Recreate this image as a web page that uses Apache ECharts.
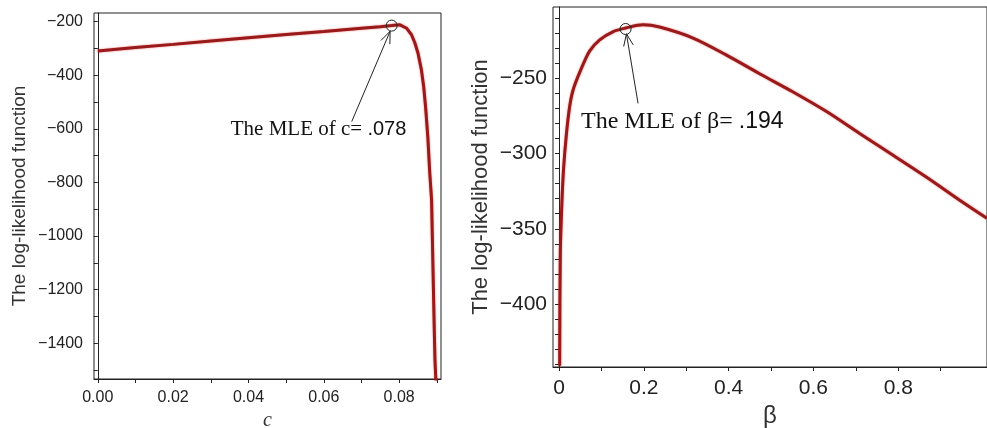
<!DOCTYPE html>
<html><head><meta charset="utf-8">
<script src="https://cdn.jsdelivr.net/npm/echarts@6/dist/echarts.min.js"></script>
<style>html,body{margin:0;padding:0;background:#fff}#c{width:987px;height:428px}</style>
</head><body><div id="c"></div>
<script>
// Left panel: log-likelihood vs c
const cX = [0, 0.01, 0.02, 0.03, 0.04, 0.05, 0.06, 0.07, 0.075, 0.078, 0.0802, 0.082, 0.0833, 0.0842, 0.085, 0.0859, 0.0865, 0.087, 0.0876, 0.0881, 0.0886, 0.089, 0.0893, 0.0895, 0.0897, 0.0899];
const cY = [-310, -297, -285, -272, -260, -248, -237, -225, -219, -215, -212, -225, -250, -281, -318, -380, -442, -517, -629, -760, -865, -1138, -1338, -1462, -1525, -1560];
const cXTickLabels = [0, 0.02, 0.04, 0.06, 0.08];
const cXTicks = [0, 0.01, 0.02, 0.03, 0.04, 0.05, 0.06, 0.07, 0.08, 0.09];
const cYTickLabels = [-200, -400, -600, -800, -1000, -1200, -1400];
const cYTicks = [-200, -300, -400, -500, -600, -700, -800, -900, -1000, -1100, -1200, -1300, -1400, -1500];
const cMLE = [0.078, -215];
const cArrow = [0.0674, -573, 0.0776, -236];

// Right panel: log-likelihood vs beta
const bX = [0.0015, 0.003, 0.007, 0.011, 0.0175, 0.025, 0.033, 0.049, 0.072, 0.096, 0.128, 0.157, 0.198, 0.237, 0.316, 0.394, 0.473, 0.551, 0.630, 0.709, 0.787, 0.866, 0.945, 1.009];
const bY = [-441, -367, -331, -309, -287, -269, -258, -246, -232, -224.5, -219, -216.7, -214.5, -216, -223.3, -234.5, -247, -259, -272, -286.7, -301, -315.6, -331, -343];
const bXTickLabels = [0, 0.2, 0.4, 0.6, 0.8];
const bXTicks = [0, 0.1, 0.2, 0.3, 0.4, 0.5, 0.6, 0.7, 0.8, 0.9];
const bYTickLabels = [-250, -300, -350, -400];
const bYTicks = [-210, -220, -230, -240, -250, -260, -270, -280, -290, -300, -310, -320, -330, -340, -350, -360, -370, -380, -390, -400, -410, -420, -430, -440];
const bMLE = [0.157, -217.3];
const bArrow = [0.1864, -266.7, 0.159, -220.5];

const yTitle = 'The log-likelihood function';

const lineColor = '#981a1a';
const ink = '#222';
const minusFmt = v => (v < 0 ? '\u2212' + Math.abs(v) : String(v));

function xAxisCfg(grid, min, max, labels, ticks, fmt, name, nameStyle, nameGap, fs, margin) {
  return {
    type: 'value', gridIndex: grid, min, max, name, nameLocation: 'middle', nameGap,
    nameTextStyle: nameStyle,
    axisLine: { show: true, lineStyle: { color: ink, width: 1 } },
    axisTick: { show: true, length: 4, inside: false, customValues: ticks, lineStyle: { color: ink } },
    axisLabel: { customValues: labels, formatter: fmt, fontFamily: 'Liberation Sans', fontSize: fs, color: ink, margin },
    splitLine: { show: false }
  };
}
function yAxisCfg(grid, min, max, labels, ticks, name, nameSize, nameGap, fs, margin) {
  return {
    type: 'value', gridIndex: grid, min, max, name, nameLocation: 'middle', nameGap, nameRotate: 90,
    nameTextStyle: { fontFamily: 'Liberation Sans', fontSize: nameSize, color: '#333' },
    axisLine: { show: true, lineStyle: { color: ink, width: 1 } },
    axisTick: { show: true, length: 4, inside: false, customValues: ticks, lineStyle: { color: ink } },
    axisLabel: { customValues: labels, formatter: minusFmt, fontFamily: 'Liberation Sans', fontSize: fs, color: ink, margin },
    splitLine: { show: false }
  };
}

// Arrow drawn through the axes' scales: line from start to tip, with an open chevron head at the tip
function arrowSeries(xi, arr) {
  return {
    type: 'custom', xAxisIndex: xi, yAxisIndex: xi, silent: true, clip: false, z: 5,
    data: [arr],
    renderItem: function (params, api) {
      const p1 = api.coord([api.value(0), api.value(1)]);
      const p2 = api.coord([api.value(2), api.value(3)]);
      const ang = Math.atan2(p2[1] - p1[1], p2[0] - p1[0]);
      const L = 13, spread = 0.38;
      const a1 = [p2[0] - L * Math.cos(ang - spread), p2[1] - L * Math.sin(ang - spread)];
      const a2 = [p2[0] - L * Math.cos(ang + spread), p2[1] - L * Math.sin(ang + spread)];
      return {
        type: 'group',
        children: [
          { type: 'line', shape: { x1: p1[0], y1: p1[1], x2: p2[0], y2: p2[1] }, style: { stroke: ink, lineWidth: 1 } },
          { type: 'polyline', shape: { points: [a1, p2, a2] }, style: { stroke: ink, lineWidth: 1, fill: null } }
        ]
      };
    }
  };
}

const option = {
  animation: false,
  backgroundColor: '#fff',
  grid: [
    { left: 94, top: 13, width: 347, height: 366, show: true, borderColor: ink, borderWidth: 1, backgroundColor: '#fff', containLabel: false, outerBoundsMode: 'none' },
    { left: 553, top: 7, right: 0, height: 360, show: true, borderColor: ink, borderWidth: 1, backgroundColor: '#fff', containLabel: false, outerBoundsMode: 'none' }
  ],
  xAxis: [
    xAxisCfg(0, -0.001, 0.0911, cXTickLabels, cXTicks, v => v.toFixed(2), 'c',
      { fontFamily: 'Liberation Serif', fontStyle: 'italic', fontSize: 20, color: '#333' }, 28, 16, 11),
    xAxisCfg(1, -0.0142, 1.0093, bXTickLabels, bXTicks, v => String(v), '\u03b2',
      { fontFamily: 'Liberation Sans', fontSize: 24, color: '#333' }, 34, 21, 11)
  ],
  yAxis: [
    yAxisCfg(0, -1533, -168, cYTickLabels, cYTicks, yTitle, 19, 65, 16, 11),
    yAxisCfg(1, -441.8, -202.7, bYTickLabels, bYTicks, yTitle, 22, 61, 21, 6)
  ],
  series: [
    {
      type: 'line', xAxisIndex: 0, yAxisIndex: 0, showSymbol: false, clip: true,
      data: cX.map((x, i) => [x, cY[i]]),
      lineStyle: { color: lineColor, width: 3, shadowColor: 'rgba(230,0,0,0.55)', shadowBlur: 2 },
      markPoint: {
        silent: true,
        data: [
          { coord: cMLE, symbol: 'circle', symbolSize: 11, itemStyle: { color: 'rgba(0,0,0,0)', borderColor: ink, borderWidth: 1 }, label: { show: false } },
          { coord: [0.0586, -604], symbol: 'circle', symbolSize: 0,
            label: { show: true, position: 'inside', formatter: '{a|The MLE of c= }{b|.078}',
              rich: { a: { fontFamily: 'Liberation Serif', fontSize: 21, color: '#111' }, b: { fontFamily: 'Liberation Sans', fontSize: 20, color: '#111' } } } }
        ]
      }
    },
    arrowSeries(0, cArrow),
    {
      type: 'line', xAxisIndex: 1, yAxisIndex: 1, showSymbol: false, clip: true, smooth: 0.3,
      data: bX.map((x, i) => [x, bY[i]]),
      lineStyle: { color: lineColor, width: 3, shadowColor: 'rgba(230,0,0,0.55)', shadowBlur: 2 },
      markPoint: {
        silent: true,
        data: [
          { coord: bMLE, symbol: 'circle', symbolSize: 11, itemStyle: { color: 'rgba(0,0,0,0)', borderColor: ink, borderWidth: 1 }, label: { show: false } },
          { coord: [0.2907, -279], symbol: 'circle', symbolSize: 0,
            label: { show: true, position: 'inside', formatter: '{a|The MLE of \u03b2= }{b|.194}',
              rich: { a: { fontFamily: 'Liberation Serif', fontSize: 24, color: '#111' }, b: { fontFamily: 'Liberation Sans', fontSize: 23, color: '#111' } } } }
        ]
      }
    },
    arrowSeries(1, bArrow)
  ]
};
const chart = echarts.init(document.getElementById('c'), null, { renderer: 'canvas' });
chart.setOption(option);
</script>
</body></html>
